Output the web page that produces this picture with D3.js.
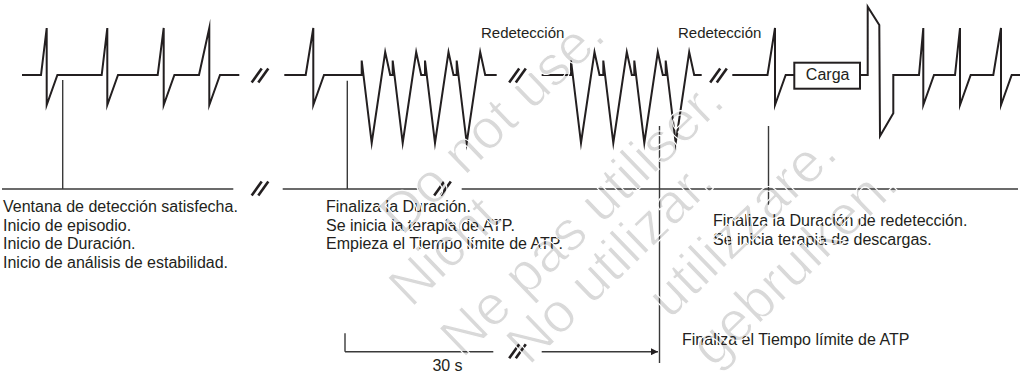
<!DOCTYPE html>
<html><head><meta charset="utf-8">
<script src="https://cdn.jsdelivr.net/npm/d3@7"></script>
<style>
html,body{margin:0;padding:0;background:#fff;}
svg{display:block;font-family:"Liberation Sans",Arial,sans-serif;}
</style></head>
<body><svg id="c" width="1020" height="378"></svg>
<script>
// ---- data (time along the strip, amplitude in arbitrary units) ----
const stripSegments = [[22,239.3],[284.3,496.7],[541.7,701.7],[732.3,794.3],[860,1020]];
const normalBeatOnsets = [41,101.7,157.7,199,305.7,767.5,919,955,993.3];
const normalBeatRise   = [5.7,5.6,6,10.3,7.6,7.5,4.3,5,7.7];
const normalPeak = 47, normalTrough = -30, normalReturn = 10.7;
const vtOnsets = [361.7,392.7,425,456.7,571,603.3,634.3,665.7];
const vtTick = 14.5, vtTrough = -68, vtPeak = 23;
const vtTroughAt = 10, vtPeakAt = 23.5, vtReturnAt = 28.5;
const shockOnset = 867.7;
const shockDx  = [0,0,11.6,12.3,25.6,25.6];
const shockAmp = [0,68.3,50,-61,-38.3,0];
const chargeBox = [794.3,860], chargeTop = 12.3, chargeBottom = -13.7;
const chargeLabel = "Carga";
const stripBreaks = [260,517.5,718.5];
const redetectLabels = ["Redetección","Redetección"];
const redetectX = [481,678];

const timelineSegments = [[2,233.3],[282.7,418.3],[461.7,1018]];
const timelineBreaks = [260,442.5];
const markerX = [62.7,347.3,659.5,768.5];
const markerFromAmp = [-5,-5.7,-51,-51];
const markerToRow = [0,0,2,1];   // 0: timeline, 1: below timeline, 2: bottom arrow end
const noteX = [3,326,713,682];
const noteLines = [
  ["Ventana de detección satisfecha.","Inicio de episodio.","Inicio de Duración.","Inicio de análisis de estabilidad."],
  ["Finaliza la Duración.","Se inicia la terapia de ATP.","Empieza el Tiempo límite de ATP."],
  ["Finaliza la Duración de redetección.","Se inicia terapia de descargas."],
  ["Finaliza el Tiempo límite de ATP"]
];
const noteBaseline = [212,212,226,345];
const scaleSegments = [[345,493.3],[541.7,658]];
const scaleBreak = 517.5;
const scaleLabel = "30 s";

// faint diagonal watermark words (the parts that lie fully inside the frame)
const watermarkTexts = ["Do not use.","Nicht","Ne pas utiliser.","No utilizar.","utilizzare.","gebruiken."];
const watermarkEndX = [608,503,727,717,840,901];
const watermarkEndY = [38,220,104,185,156,187];

// ---- scales ----
const W = 1020, H = 378;
const x = d3.scaleLinear().domain([0,1020]).range([0,W]);
const y = d3.scaleLinear().domain([-100,100]).range([175,-25]); // amplitude 0 -> y 75
const timelineY = 189, scaleY = 351.7, markerRowY = [189,205,363];

const svg = d3.select("#c");
const ink = "#231f20";

function watermark(layer){
  return svg.append("g").attr("class",layer).attr("pointer-events","none")
    .selectAll("text").data(watermarkTexts).join("text")
    .attr("transform",(d,i)=>`translate(${x(watermarkEndX[i])},${watermarkEndY[i]}) rotate(-44)`)
    .attr("text-anchor","end").attr("font-size",56).text(d=>d);
}
watermark("wm-fill").attr("fill","#d9d9d9");

// ---- build strip points ----
function segPoints(seg){
  const [a,b] = seg;
  const pts = [[a,0]];
  normalBeatOnsets.forEach((t,i)=>{
    if(t>a && t<b){
      const p = t+normalBeatRise[i];
      pts.push([t,0],[p,normalPeak],[p,normalTrough],[p+normalReturn,0]);
    }
  });
  vtOnsets.forEach(t=>{
    if(t>a && t<b){
      pts.push([t,0],[t,vtTick],[t+vtTroughAt,vtTrough],[t+vtPeakAt,vtPeak],[t+vtReturnAt,0]);
    }
  });
  if(shockOnset>a && shockOnset<b){
    shockDx.forEach((d,i)=>pts.push([shockOnset+d,shockAmp[i]]));
  }
  pts.sort((p,q)=>p[0]-q[0]);
  pts.push([b,0]);
  return pts;
}
const line = d3.line().x(d=>x(d[0])).y(d=>y(d[1]));
svg.append("g").selectAll("path").data(stripSegments).join("path")
  .attr("d",d=>line(segPoints(d)))
  .attr("fill","none").attr("stroke",ink).attr("stroke-width",2).attr("stroke-linejoin","miter").attr("stroke-miterlimit",10);

// charge box
svg.append("rect").attr("x",x(chargeBox[0])).attr("y",y(chargeTop))
  .attr("width",x(chargeBox[1])-x(chargeBox[0])).attr("height",y(chargeBottom)-y(chargeTop))
  .attr("fill","none").attr("stroke",ink).attr("stroke-width",2);
svg.append("text").attr("x",x((chargeBox[0]+chargeBox[1])/2)+0.5).attr("y",y(0)+4.5)
  .attr("text-anchor","middle").attr("font-size",16).attr("fill",ink).text(chargeLabel);

// break marks
function breakMark(g,cx,cy,w){
  [-3.3,3.3].forEach(o=>{
    g.append("line").attr("x1",cx+o-5).attr("y1",cy+7.5).attr("x2",cx+o+5).attr("y2",cy-6.5)
      .attr("stroke",ink).attr("stroke-width",w);
  });
}
const gb = svg.append("g");
stripBreaks.forEach(b=>breakMark(gb,x(b),y(0),2.6));
timelineBreaks.forEach(b=>breakMark(gb,x(b),timelineY-1,2.6));
breakMark(gb,x(scaleBreak),scaleY-1,2.6);

// labels above
svg.append("g").selectAll("text").data(redetectLabels).join("text")
  .attr("x",(d,i)=>x(redetectX[i])).attr("y",37.5).attr("font-size",15).attr("fill",ink).text(d=>d);

// timeline
const gray = "#3a3a3a";
svg.append("g").selectAll("line").data(timelineSegments).join("line")
  .attr("x1",d=>x(d[0])).attr("x2",d=>x(d[1])).attr("y1",timelineY).attr("y2",timelineY)
  .attr("stroke",gray).attr("stroke-width",1.4);

// markers
svg.append("g").selectAll("line").data(markerX).join("line")
  .attr("x1",d=>x(d)).attr("x2",d=>x(d))
  .attr("y1",(d,i)=>y(markerFromAmp[i])).attr("y2",(d,i)=>markerRowY[markerToRow[i]])
  .attr("stroke",gray).attr("stroke-width",1.4);

// notes
const gn = svg.append("g").attr("font-size",16).attr("fill",ink);
noteLines.forEach((lines,k)=>{
  const t = gn.append("text").attr("x",noteX[k]).attr("y",noteBaseline[k]);
  lines.forEach((s,j)=>t.append("tspan").attr("x",noteX[k]).attr("dy",j?18.5:0).text(s));
});

// 30 s scale arrow
svg.append("defs").append("marker").attr("id","ah").attr("viewBox","0 0 10 10")
  .attr("refX",10).attr("refY",5).attr("markerWidth",10).attr("markerHeight",7)
  .attr("markerUnits","userSpaceOnUse").attr("orient","auto")
  .append("path").attr("d","M0,0L10,5L0,10Z").attr("fill",ink);
svg.append("g").selectAll("line").data(scaleSegments).join("line")
  .attr("x1",d=>x(d[0])).attr("x2",d=>x(d[1])).attr("y1",scaleY).attr("y2",scaleY)
  .attr("stroke",gray).attr("stroke-width",1.4)
  .attr("marker-end",(d,i)=>i===scaleSegments.length-1?"url(#ah)":null);
svg.append("line").attr("x1",x(scaleSegments[0][0])).attr("x2",x(scaleSegments[0][0]))
  .attr("y1",333.3).attr("y2",scaleY).attr("stroke",gray).attr("stroke-width",1.4);
svg.append("text").attr("x",x(447.5)).attr("y",370.5).attr("text-anchor","middle")
  .attr("font-size",16).attr("fill",ink).text(scaleLabel);

// thin white watermark outline over the drawing
watermark("wm-edge").attr("fill","none").attr("stroke","#ffffff").attr("stroke-width",1.1)
  .attr("stroke-linejoin","round");
</script></body></html>
